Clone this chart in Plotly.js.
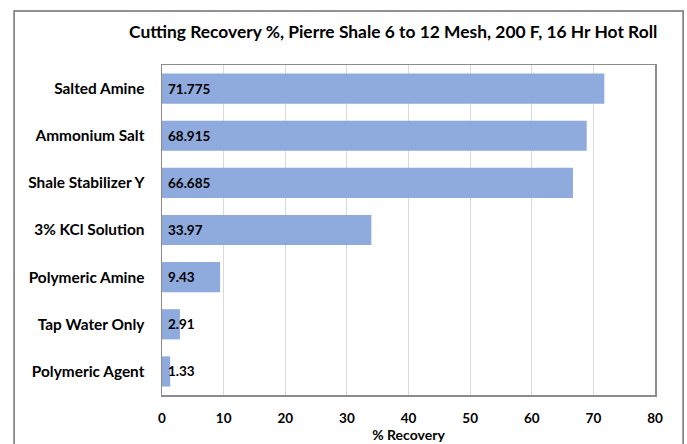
<!DOCTYPE html>
<html>
<head>
<meta charset="utf-8">
<script src="https://cdn.plot.ly/plotly-3.0.1.min.js"></script>
<style>html,body{margin:0;padding:0;background:#fff;}#chart{width:687px;height:444px;}</style>
</head>
<body>
<div id="chart"></div>
<script>
const categories = ["Salted Amine", "Ammonium Salt", "Shale Stabilizer Y", "3% KCl Solution", "Polymeric Amine", "Tap Water Only", "Polymeric Agent"];
const recovery = [71.775, 68.915, 66.685, 33.97, 9.43, 2.91, 1.33];
const xTicks = [0, 10, 20, 30, 40, 50, 60, 70, 80];
const titleText = "Cutting Recovery %, Pierre Shale 6 to 12 Mesh, 200 F, 16 Hr Hot Roll";
const xTitle = "% Recovery";

const FONT = "Lato, 'Open Sans', sans-serif";

const trace = {
  type: "bar",
  orientation: "h",
  y: categories,
  x: recovery,
  marker: {color: "#8faadc"},
  hoverinfo: "x+y"
};

const annotations = categories.map((c, i) => ({
  x: 0, y: c, xref: "x", yref: "y",
  text: "<b>" + String(recovery[i]) + "</b>",
  showarrow: false, xanchor: "left", yanchor: "middle", xshift: 4,
  font: {family: FONT, size: 13.5, color: "#000"}
}));

annotations.push({
  xref: "paper", yref: "paper", x: 1.008, y: (395 - 31) / 330,
  xanchor: "right", yanchor: "middle", showarrow: false,
  text: "<b>" + titleText + "</b>",
  font: {family: FONT, size: 17.4, color: "#000"}
});

const layout = {
  width: 687, height: 444,
  margin: {l: 162, r: 32, t: 65, b: 49, pad: 0},
  paper_bgcolor: "#fff", plot_bgcolor: "#fff",
  showlegend: false,
  bargap: 0.36,
  font: {family: FONT, color: "#000"},
  xaxis: {
    range: [0, 80],
    tickvals: xTicks,
    ticktext: xTicks.map(v => "<b>" + v + "</b>"),
    tickfont: {family: FONT, size: 13.5, color: "#000"},
    showgrid: true, gridcolor: "#d9d9d9", gridwidth: 1,
    zeroline: false,
    showline: true, linecolor: "#8c8c8c", linewidth: 1.5, mirror: true,
    ticks: "", ticklabelstandoff: 10,
    title: {text: "<b>" + xTitle + "</b>", font: {family: FONT, size: 14, color: "#000"}, standoff: 4},
    fixedrange: true
  },
  yaxis: {
    type: "category",
    autorange: "reversed",
    tickvals: categories,
    ticktext: categories.map(c => "<b>" + c + "</b>"),
    tickfont: {family: FONT, size: 15.4, color: "#000"},
    showgrid: false, zeroline: false,
    showline: true, linecolor: "#8c8c8c", linewidth: 1.5, mirror: true,
    ticks: "", ticklabelstandoff: 13,
    fixedrange: true
  },
  annotations: annotations,
  shapes: [{
    type: "rect", xref: "paper", yref: "paper",
    x0: -0.300, x1: 1.057, y0: -0.3, y1: 1.1636,
    line: {color: "#707070", width: 1.5}, fillcolor: "rgba(0,0,0,0)", layer: "below"
  }]
};

Plotly.newPlot("chart", [trace], layout, {displayModeBar: false, staticPlot: true});
</script>
</body>
</html>
